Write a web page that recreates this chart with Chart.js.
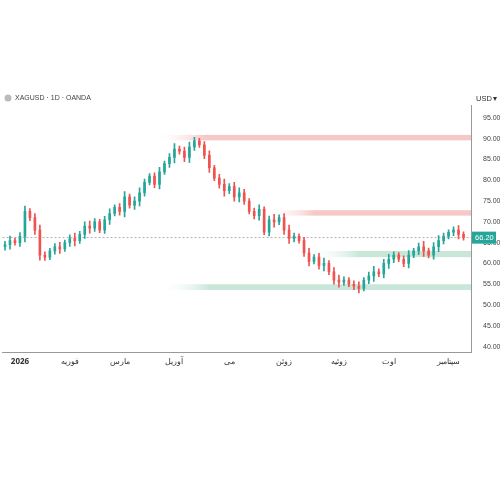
<!DOCTYPE html>
<html>
<head>
<meta charset="utf-8">
<script src="https://cdn.jsdelivr.net/npm/chart.js@4"></script>
<style>
  html, body { margin: 0; background: #fff; }
  #wrap { width: 500px; height: 500px; }
</style>
</head>
<body>
<div id="wrap"><canvas id="c"></canvas></div>
<script>
// daily closes (approx.)
const closes = [64.5, 65.5, 65, 66.5, 72.5, 71, 68, 62, 61.5, 63,
  64, 63.5, 65, 66, 65.5, 67, 69, 68.5, 70, 68,
  70.5, 72, 73.5, 72.5, 76, 74, 75, 77, 79.5, 81,
  79, 82, 84, 85.5, 87.5, 87, 85.5, 88, 89.5, 88.5,
  86, 83, 80.5, 79, 77.5, 78.5, 76, 77, 75, 72.5,
  71.5, 73, 67.5, 70.5, 70, 71, 68, 66, 66.5, 65.5,
  62.5, 60.5, 61.5, 59.5, 60, 58, 56, 55.5, 56, 55,
  54.5, 54, 56, 57, 58, 57.5, 60, 61, 62, 61,
  60, 62, 63, 64, 63, 62, 64, 65.5, 66.5, 67.5,
  68, 67, 66.2];
const firstOpen = 64;
const wickSize = [0.8, 1.1, 0.6, 0.9, 1.3, 0.7, 1.0, 1.2, 0.8, 0.6];
const monthLabels = ['2026', 'فوريه', 'مارس', 'آوريل', 'مى', 'زوئن', 'زوئيه', 'اوت', 'سپتامبر'];
const monthIndex = [3, 13, 23, 34, 45, 56, 67, 77, 89];
const yTicks = [40, 45, 50, 55, 60, 65, 70, 75, 80, 85, 90, 95];
const lastPrice = 66.20;
// zones: [from index, low, high, colour]
const zones = [
  [30, 89.6, 90.9, 'rgba(239,154,154,0.55)'],
  [52, 71.5, 72.8, 'rgba(239,154,154,0.55)'],
  [61, 61.5, 63.0, 'rgba(165,214,190,0.6)'],
  [31, 53.6, 55.0, 'rgba(165,214,190,0.6)']
];
const trendStart = [71, 53.8];
const trendEnd = [94, 65.7];

const n = closes.length + 1;
const labels = [];
for (let i = 0; i < n; i++) labels.push('');
monthIndex.forEach((ix, k) => labels[ix] = monthLabels[k]);

const bodies = [], wicks = [], colors = [];
for (let i = 0; i < closes.length; i++) {
  const o = i === 0 ? firstOpen : closes[i - 1];
  const c = closes[i];
  const w = wickSize[i % wickSize.length];
  bodies.push([o, c === o ? c + 0.1 : c]);
  wicks.push([Math.min(o, c) - w, Math.max(o, c) + w]);
  colors.push(c >= o ? '#26a69a' : '#ef5350');
}
const trend = labels.map(() => null);
trend[trendStart[0]] = trendStart[1];
trend[trendEnd[0]] = trendEnd[1];

const zonePlugin = {
  id: 'zones',
  beforeDatasetsDraw(chart) {
    const { ctx, scales: { x, y }, chartArea } = chart;
    ctx.save();
    zones.forEach(z => {
      const x0 = x.getPixelForValue(z[0]);
      const y0 = y.getPixelForValue(z[2]);
      const y1 = y.getPixelForValue(z[1]);
      const g = ctx.createLinearGradient(x0, 0, x0 + 50, 0);
      g.addColorStop(0, 'rgba(255,255,255,0)');
      g.addColorStop(1, z[3]);
      ctx.fillStyle = g;
      ctx.fillRect(x0, y0, chartArea.right - x0, y1 - y0);
    });
    // last price line
    const yp = y.getPixelForValue(lastPrice);
    ctx.strokeStyle = '#9e9e9e';
    ctx.lineWidth = 0.8;
    ctx.setLineDash([2, 2]);
    ctx.beginPath();
    ctx.moveTo(chartArea.left, yp);
    ctx.lineTo(chartArea.right, yp);
    ctx.stroke();
    ctx.restore();
  },
  afterDraw(chart) {
    const { ctx, scales: { y }, chartArea } = chart;
    ctx.save();
    const yp = y.getPixelForValue(lastPrice);
    ctx.fillStyle = '#26a69a';
    ctx.fillRect(chartArea.right + 1, yp - 6, 24, 12);
    ctx.fillStyle = '#fff';
    ctx.font = '7.5px "Liberation Sans"';
    ctx.textBaseline = 'middle';
    ctx.fillText(lastPrice.toFixed(2), chartArea.right + 4, yp);
    ctx.fillStyle = '#333';
    ctx.fillText('USD', chartArea.right + 5, 99);
    ctx.fillText('▾', chartArea.right + 22, 99);
    ctx.fillStyle = '#444';
    ctx.font = '7px "Liberation Sans"';
    ctx.fillText('XAGUSD · 1D · OANDA', 15, 98);
    ctx.fillStyle = '#bbb';
    ctx.beginPath();
    ctx.arc(8, 98, 3.5, 0, Math.PI * 2);
    ctx.fill();
    ctx.restore();
  }
};

new Chart(document.getElementById('c'), {
  type: 'bar',
  data: {
    labels: labels,
    datasets: [
      { type: 'line', data: trend, spanGaps: true, borderColor: '#555', borderWidth: 0.8, borderDash: [3, 2], pointRadius: 0, order: 0 },
      { data: wicks, backgroundColor: colors, barThickness: 1, grouped: false, order: 2 },
      { data: bodies, backgroundColor: colors, barThickness: 2, grouped: false, order: 1 }
    ]
  },
  options: {
    animation: false,
    responsive: true,
    maintainAspectRatio: false,
    layout: { padding: { top: 105, bottom: 128, left: 0, right: 0 } },
    plugins: { legend: { display: false }, tooltip: { enabled: false } },
    scales: {
      x: {
        grid: { display: false, drawTicks: false },
        border: { color: '#999' },
        ticks: {
          autoSkip: false, maxRotation: 0, padding: 5, color: '#333',
          font: (c) => ({ size: 8, family: 'Noto Sans', weight: c.index === monthIndex[0] ? 'bold' : 'normal' }),
          callback: (v, i) => labels[i]
        }
      },
      y: {
        position: 'right', min: 38.6, max: 98.1,
        grid: { display: false },
        border: { color: '#999' },
        afterBuildTicks: ax => { ax.ticks = yTicks.map(v => ({ value: v })); },
        afterFit: ax => { ax.width = 29; },
        ticks: { color: '#444', font: { size: 7, family: 'Liberation Sans' }, padding: 4, callback: v => v.toFixed(2) }
      }
    }
  },
  plugins: [zonePlugin]
});
</script>
</body>
</html>
